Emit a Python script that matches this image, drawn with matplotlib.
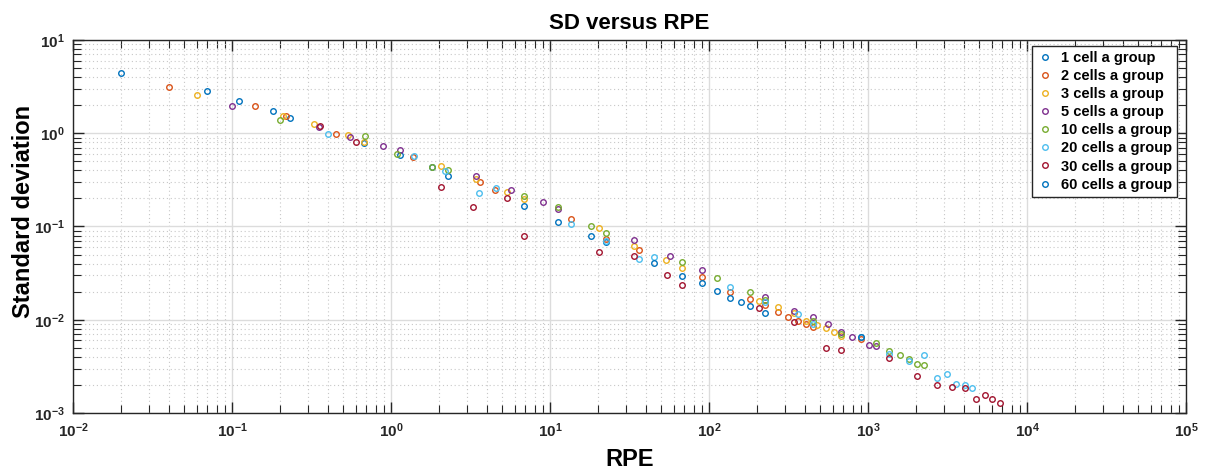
import matplotlib
matplotlib.use("Agg")
import matplotlib.pyplot as plt
from matplotlib.ticker import LogLocator, LogFormatterMathtext, NullFormatter

plt.rcParams['font.family'] = ['Liberation Sans', 'DejaVu Sans']
plt.rcParams['font.weight'] = 'bold'
plt.rcParams['mathtext.fontset'] = 'custom'
plt.rcParams['mathtext.rm'] = 'Liberation Sans:bold'
plt.rcParams['mathtext.bf'] = 'Liberation Sans:bold'
plt.rcParams['mathtext.default'] = 'bf'
plt.rcParams['axes.unicode_minus'] = False

# data (RPE, standard deviation)
rpe_1 = [0.02, 0.07, 0.11, 0.18, 0.23, 0.68, 1.14, 1.80, 2.27, 6.84, 11.3, 18.0, 22.6]
sd_1 = [4.40, 2.87, 2.23, 1.72, 1.45, 0.785, 0.581, 0.439, 0.346, 0.166, 0.111, 0.0798, 0.0675]

rpe_2 = [0.04, 0.14, 0.22, 0.45, 1.37, 3.63, 4.52, 13.5, 22.6, 36.1, 90.4, 136, 180,
         226, 272, 316, 361, 407, 449, 900]
sd_2 = [3.11, 1.95, 1.55, 0.976, 0.551, 0.297, 0.246, 0.119, 0.0736, 0.0561, 0.0285,
        0.0197, 0.0166, 0.0143, 0.0122, 0.0108, 0.00971, 0.00902, 0.00829, 0.00616]

rpe_3 = [0.06, 0.21, 0.33, 0.54, 0.68, 2.06, 3.41, 5.40, 6.84, 20.4, 33.9, 53.8, 68.1,
         205, 272, 340, 407, 476, 544, 608, 681]
sd_3 = [2.54, 1.55, 1.25, 0.968, 0.815, 0.445, 0.320, 0.234, 0.198, 0.0966, 0.0612,
        0.0439, 0.0360, 0.0159, 0.0136, 0.0119, 0.00971, 0.00871, 0.00809, 0.00733, 0.0067]

rpe_5 = [0.10, 0.35, 0.55, 0.89, 1.14, 3.43, 5.66, 9.06, 11.3, 33.9, 56.6, 90.4, 226,
         340, 449, 564, 681, 789, 1010, 1122]
sd_5 = [1.95, 1.17, 0.922, 0.724, 0.657, 0.346, 0.249, 0.185, 0.154, 0.0709, 0.0479,
        0.0342, 0.0174, 0.0125, 0.0107, 0.00908, 0.0074, 0.00659, 0.00537, 0.00519]

rpe_10 = [0.20, 0.69, 1.09, 1.80, 2.28, 6.84, 11.3, 18.0, 22.6, 68.1, 113, 180, 226,
          449, 681, 1122, 1365, 1583, 1803, 2023, 2250]
sd_10 = [1.39, 0.929, 0.606, 0.439, 0.405, 0.213, 0.1635, 0.1005, 0.0845, 0.0417, 0.0283,
         0.0197, 0.0163, 0.00971, 0.00704, 0.00568, 0.00466, 0.00419, 0.0038, 0.00332, 0.0033]

rpe_20 = [0.40, 1.40, 2.19, 3.56, 4.55, 13.5, 22.6, 36.1, 45.1, 136, 226, 361, 449,
          900, 1365, 1803, 2250, 2704, 3157, 3597, 4055, 4510]
sd_20 = [0.985, 0.567, 0.391, 0.229, 0.258, 0.1056, 0.070, 0.0444, 0.0466, 0.0226, 0.0154,
         0.0114, 0.00902, 0.00647, 0.0043, 0.00364, 0.00419, 0.00239, 0.00264, 0.00205,
         0.00201, 0.00185]

rpe_30 = [0.36, 0.60, 2.06, 3.28, 5.37, 6.84, 20.4, 33.9, 54.2, 68.1, 205, 340, 544,
          681, 1365, 2023, 2704, 3396, 4055, 4756, 5420, 6057, 6730]
sd_30 = [1.19, 0.80, 0.268, 0.160, 0.201, 0.0798, 0.0529, 0.0479, 0.0300, 0.0238, 0.0133,
         0.00954, 0.00493, 0.00474, 0.00392, 0.00249, 0.00198, 0.0019, 0.00184, 0.00141,
         0.00157, 0.00141, 0.00129]

rpe_60 = [45.1, 68.1, 90.4, 113, 136, 158, 180, 226, 900]
sd_60 = [0.0407, 0.0292, 0.0246, 0.0204, 0.0173, 0.0154, 0.0142, 0.0117, 0.0066]

series = [(rpe_1, sd_1, '1 cell a group'),
          (rpe_2, sd_2, '2 cells a group'),
          (rpe_3, sd_3, '3 cells a group'),
          (rpe_5, sd_5, '5 cells a group'),
          (rpe_10, sd_10, '10 cells a group'),
          (rpe_20, sd_20, '20 cells a group'),
          (rpe_30, sd_30, '30 cells a group'),
          (rpe_60, sd_60, '60 cells a group')]
colors = ['#0072BD', '#D95319', '#EDB120', '#7E2F8E', '#77AC30', '#4DBEEE', '#A2142F', '#0072BD']

x_ticks = [1e-2, 1e-1, 1e0, 1e1, 1e2, 1e3, 1e4, 1e5]
y_ticks = [1e-3, 1e-2, 1e-1, 1e0, 1e1]

fig = plt.figure(figsize=(12.1, 4.73), dpi=100)
ax = fig.add_axes([73/1210, 1 - 413/473, 1113/1210, 373/473])

for (x, y, lab), c in zip(series, colors):
    ax.plot(x, y, 'o', mfc='none', mec=c, ms=4.0, mew=1.0, label=lab)

ax.set_xscale('log')
ax.set_yscale('log')
ax.set_xticks(x_ticks)
ax.set_yticks(y_ticks)
ax.xaxis.set_minor_locator(LogLocator(base=10, subs=range(2, 10), numticks=100))
ax.yaxis.set_minor_locator(LogLocator(base=10, subs=range(2, 10), numticks=100))
ax.xaxis.set_major_formatter(LogFormatterMathtext())
ax.yaxis.set_major_formatter(LogFormatterMathtext())
ax.xaxis.set_minor_formatter(NullFormatter())
ax.yaxis.set_minor_formatter(NullFormatter())
ax.set_xlim(1e-2, 1e5)
ax.set_ylim(1e-3, 1e1)

ax.grid(True, which='major', color='#dcdcdc', lw=1.0, ls='-')
ax.grid(True, which='minor', color='#c8c8c8', lw=0.8, ls=(0, (1, 2.5)))
ax.set_axisbelow(True)

for s in ax.spines.values():
    s.set_color('#262626')
    s.set_linewidth(1.0)
ax.tick_params(which='both', direction='in', top=True, right=True, colors='#262626',
               labelsize=11, labelcolor='#262626')
ax.tick_params(which='major', length=8, width=1.0, pad=6)
ax.tick_params(which='minor', length=5.5, width=0.8)

ax.set_title('SD versus RPE', fontsize=16, fontweight='bold', pad=8)
ax.set_xlabel('RPE', fontsize=17, fontweight='bold')
ax.set_ylabel('Standard deviation', fontsize=17, fontweight='bold')
ax.xaxis.set_label_coords(0.5, -0.095)
ax.yaxis.set_label_coords(-0.034, 0.54)

leg = ax.legend(loc='upper right', bbox_to_anchor=(0.992, 0.984), borderaxespad=0,
                frameon=True, fancybox=False, framealpha=1,
                edgecolor='#262626', handlelength=1.0, handletextpad=0.6,
                labelspacing=0.28, borderpad=0.35, prop={'weight': 'bold', 'size': 10.5})
leg.get_frame().set_linewidth(1.0)

fig.savefig('out.png', dpi=100)
